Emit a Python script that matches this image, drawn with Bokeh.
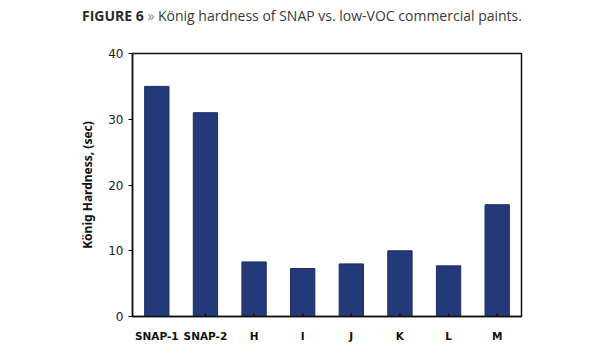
from bokeh.plotting import figure
from bokeh.models import Range1d, FixedTicker, Div
from bokeh.layouts import column
from bokeh.embed import file_html
from bokeh.resources import INLINE

categories = ["SNAP-1", "SNAP-2", "H", "I", "J", "K", "L", "M"]
hardness = [35.0, 31.0, 8.3, 7.3, 8.0, 10.0, 7.7, 17.0]
y_ticks = [0, 10, 20, 30, 40]
title_bold = "FIGURE 6"
title_rest = "König hardness of SNAP vs. low-VOC commercial paints."

div = Div(text=f"<b style='color:#2a2a2a'>{title_bold}</b>&nbsp;<span style='color:#888888'>»</span>&nbsp;{title_rest}",
          width=615, height=30,
          styles={"font-family": "Open Sans", "font-size": "14px", "color": "#3a3a3a",
                  "padding-left": "82px", "padding-top": "6px", "margin": "0",
                  "white-space": "nowrap"})

p = figure(x_range=categories, y_range=Range1d(0, 40),
           width=615, height=320, output_backend="svg", toolbar_location=None,
           min_border_left=132, min_border_right=94, min_border_top=23, min_border_bottom=34)
p.vbar(x=categories, top=hardness, width=0.5, fill_color="#24397a",
       line_color="#1a2c66", line_width=1)

p.xgrid.visible = False
p.ygrid.visible = False
p.outline_line_color = "#111111"
p.outline_line_width = 1.5

p.yaxis.ticker = FixedTicker(ticks=y_ticks)
p.yaxis.minor_tick_line_color = None
p.yaxis.major_tick_out = 4
p.yaxis.major_tick_in = 0
p.yaxis.axis_line_color = "#111111"
p.yaxis.axis_line_width = 1.5
p.yaxis.major_label_text_font = "DejaVu Sans"
p.yaxis.major_label_text_font_size = "12px"
p.yaxis.major_label_text_color = "#222222"
p.yaxis.axis_label = "König Hardness, (sec)"
p.yaxis.axis_label_text_font = "Noto Sans"
p.yaxis.axis_label_text_font_style = "bold"
p.yaxis.axis_label_text_font_size = "12px"
p.yaxis.axis_label_text_color = "#111111"
p.yaxis.axis_label_standoff = 9

p.xaxis.major_tick_line_color = None
p.xaxis.axis_line_color = "#111111"
p.xaxis.axis_line_width = 1.5
p.xaxis.major_label_text_font = "DejaVu Sans"
p.xaxis.major_label_text_font_style = "bold"
p.xaxis.major_label_text_font_size = "10.5px"
p.xaxis.major_label_text_color = "#111111"
p.xaxis.major_label_standoff = 7

# separator ticks between categories (inside)
bounds = [(c, 1.0) for c in categories[:-1]]
p.segment(x0=bounds, y0=0, x1=bounds, y1=0.45, line_color="#111111", line_width=1.5)

layout = column(div, p, spacing=0)
open("out.html", "w").write(file_html(layout, INLINE))
